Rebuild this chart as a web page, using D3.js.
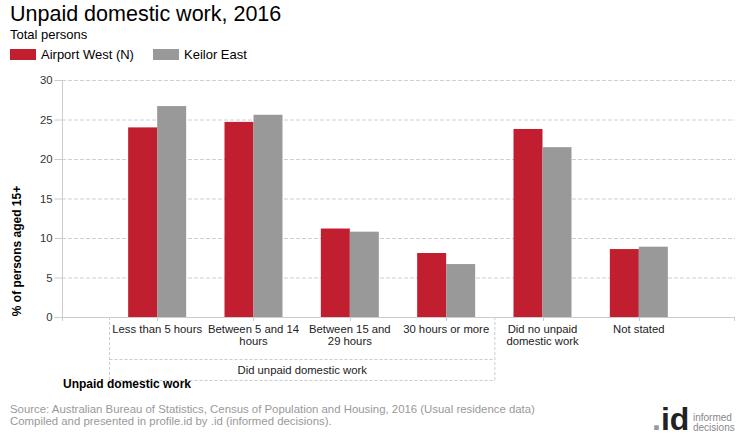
<!DOCTYPE html>
<html>
<head>
<meta charset="utf-8">
<script src="https://cdn.jsdelivr.net/npm/d3@7"></script>
<style>
  html, body { margin: 0; padding: 0; background: #fff; }
  svg { display: block; font-family: Arial, "Liberation Sans", sans-serif; }
</style>
</head>
<body>
<svg id="chart" width="740" height="440"></svg>
<script>
// ---- data ----
const categories = [
  "Less than 5 hours",
  "Between 5 and 14\nhours",
  "Between 15 and\n29 hours",
  "30 hours or more",
  "Did no unpaid\ndomestic work",
  "Not stated"
];
const seriesNames = ["Airport West (N)", "Keilor East"];
const airportWest = [24.0, 24.7, 11.2, 8.1, 23.8, 8.6];
const keilorEast  = [26.7, 25.6, 10.8, 6.7, 21.5, 8.9];
const yTicks = [0, 5, 10, 15, 20, 25, 30];
const groupLabel = "Did unpaid domestic work";
const groupSize = 4;

const colors = ["#c11f2f", "#999999"];

const svg = d3.select("#chart");

// ---- layout ----
const plotLeft = 62, plotRight = 735, plotTop = 80, plotBottom = 317;

const x = d3.scaleBand().domain(categories).range([109, 687]).paddingInner(0).paddingOuter(0);
const y = d3.scaleLinear().domain([0, 30]).range([plotBottom, plotTop]);
const barW = 29;

// gridlines
svg.append("g").selectAll("line").data(yTicks.filter(d => d > 0)).join("line")
  .attr("x1", plotLeft).attr("x2", plotRight)
  .attr("y1", d => y(d) + 0.5).attr("y2", d => y(d) + 0.5)
  .attr("stroke", "#d0d0d0").attr("stroke-dasharray", "4,2");

// y axis
const yAxis = svg.append("g").attr("transform", `translate(${plotLeft + 0.5},0)`)
  .call(d3.axisLeft(y).tickValues(yTicks).tickSize(8).tickPadding(2));
yAxis.select(".domain").attr("stroke", "#cccccc").attr("d", `M0,${plotTop}V${plotBottom + 4}`);
yAxis.selectAll(".tick line").attr("stroke", "#cccccc");
yAxis.selectAll(".tick text").attr("fill", "#333").style("font-size", "11.3px")
  .style("font-family", "Arial, 'Liberation Sans', sans-serif");

// bars
const series = [airportWest, keilorEast];
series.forEach((vals, si) => {
  svg.append("g").selectAll("rect").data(vals).join("rect")
    .attr("x", (d, i) => x(categories[i]) + x.bandwidth() / 2 - barW + si * barW)
    .attr("y", d => y(d))
    .attr("width", barW)
    .attr("height", d => y(0) - y(d))
    .attr("fill", colors[si]);
});

// x axis line
svg.append("line").attr("x1", plotLeft).attr("x2", plotRight)
  .attr("y1", plotBottom + 0.5).attr("y2", plotBottom + 0.5).attr("stroke", "#cccccc");
// ticks at category centers
svg.append("g").selectAll("line").data(categories).join("line")
  .attr("x1", d => Math.round(x(d) + x.bandwidth() / 2) + 0.5)
  .attr("x2", d => Math.round(x(d) + x.bandwidth() / 2) + 0.5)
  .attr("y1", plotBottom).attr("y2", plotBottom + 4).attr("stroke", "#cccccc");
svg.append("line").attr("x1", plotRight - 0.5).attr("x2", plotRight - 0.5)
  .attr("y1", plotBottom).attr("y2", plotBottom + 4).attr("stroke", "#cccccc");

// category labels
const lab = svg.append("g").selectAll("text").data(categories).join("text")
  .attr("x", d => x(d) + x.bandwidth() / 2)
  .attr("y", 333)
  .attr("text-anchor", "middle")
  .attr("fill", "#222").style("font-size", "11.3px");
lab.each(function(d) {
  const lines = d.split("\n");
  const t = d3.select(this);
  lines.forEach((ln, i) => {
    t.append("tspan").attr("x", x(d) + x.bandwidth() / 2).attr("dy", i === 0 ? 0 : 12).text(ln);
  });
});

// group box
const gx0 = x(categories[0]) + 0.5;
const gx1 = x(categories[groupSize - 1]) + x.bandwidth() + 0.5;
const dash = "3,2";
svg.append("line").attr("x1", gx0).attr("x2", gx0).attr("y1", plotBottom).attr("y2", 380)
  .attr("stroke", "#cccccc").attr("stroke-dasharray", dash);
svg.append("line").attr("x1", gx1).attr("x2", gx1).attr("y1", plotBottom).attr("y2", 380)
  .attr("stroke", "#cccccc").attr("stroke-dasharray", dash);
svg.append("line").attr("x1", gx0).attr("x2", gx1).attr("y1", 359.5).attr("y2", 359.5)
  .attr("stroke", "#cccccc").attr("stroke-dasharray", dash);
svg.append("line").attr("x1", gx0).attr("x2", gx1).attr("y1", 380.5).attr("y2", 380.5)
  .attr("stroke", "#cccccc").attr("stroke-dasharray", dash);
svg.append("text").attr("x", (gx0 + gx1) / 2).attr("y", 374).attr("text-anchor", "middle")
  .attr("fill", "#222").style("font-size", "11.3px").text(groupLabel);

// axis titles
svg.append("text").attr("x", 127).attr("y", 388).attr("text-anchor", "middle")
  .attr("fill", "#000").style("font-size", "12px").style("font-weight", "bold")
  .text("Unpaid domestic work");
svg.append("text").attr("transform", "translate(21,251) rotate(-90)").attr("text-anchor", "middle")
  .attr("fill", "#000").style("font-size", "12px").style("font-weight", "bold")
  .text("% of persons aged 15+");

// title
svg.append("text").attr("x", 10).attr("y", 21).attr("fill", "#000")
  .style("font-size", "21.5px").text("Unpaid domestic work, 2016");
svg.append("text").attr("x", 10).attr("y", 39).attr("fill", "#000")
  .style("font-size", "13px").text("Total persons");

// legend
const legX = [10, 153];
seriesNames.forEach((n, i) => {
  svg.append("rect").attr("x", legX[i]).attr("y", 49).attr("width", 26).attr("height", 11).attr("fill", colors[i]);
  svg.append("text").attr("x", legX[i] + 31).attr("y", 59).attr("fill", "#000")
    .style("font-size", "13px").text(n);
});

// source
svg.append("text").attr("x", 10).attr("y", 413).attr("fill", "#999").style("font-size", "11.4px")
  .text("Source: Australian Bureau of Statistics, Census of Population and Housing, 2016 (Usual residence data)");
svg.append("text").attr("x", 10).attr("y", 425).attr("fill", "#999").style("font-size", "11.4px")
  .text("Compiled and presented in profile.id by .id (informed decisions).");

// logo
const logo = svg.append("text").attr("x", 652).attr("y", 430).style("font-size", "32px").style("font-weight", "bold");
logo.append("tspan").attr("fill", "#999").text(".");
logo.append("tspan").attr("fill", "#222").text("id");
svg.append("text").attr("x", 693).attr("y", 421).attr("fill", "#888").style("font-size", "10px").text("informed");
svg.append("text").attr("x", 693).attr("y", 431).attr("fill", "#888").style("font-size", "10px").text("decisions");
</script>
</body>
</html>
